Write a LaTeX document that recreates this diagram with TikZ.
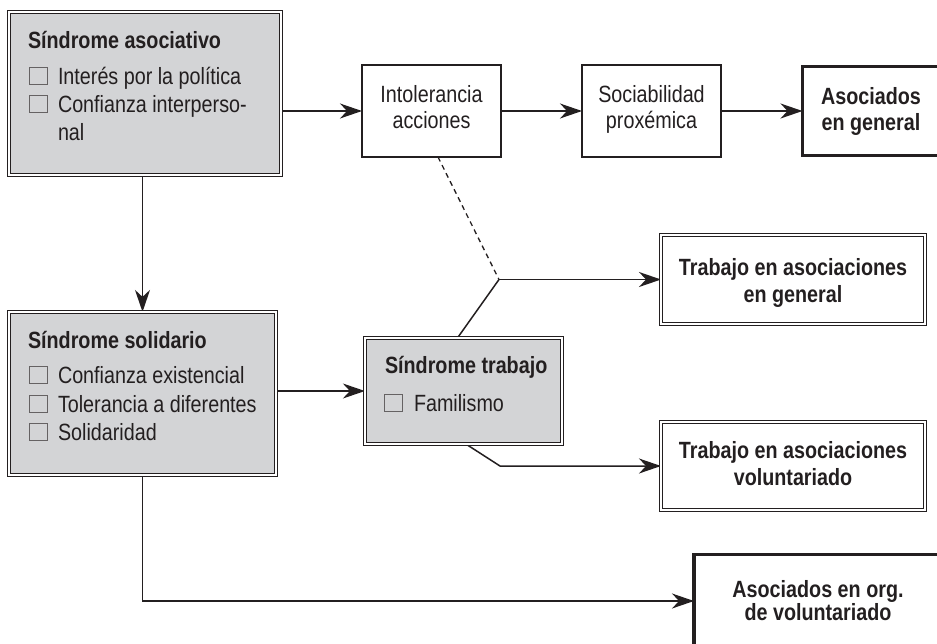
\documentclass[tikz,border=0pt]{standalone}
\usepackage{fontspec}
\setmainfont[FakeStretch=0.84]{Liberation Sans}
\usetikzlibrary{arrows.meta,calc,backgrounds}
\definecolor{ink}{HTML}{231F20}
\definecolor{boxgray}{HTML}{D3D4D6}
\begin{document}
\begin{tikzpicture}[x=1pt,y=-1pt,
  every node/.style={inner sep=0pt,outer sep=0pt},
  arr/.style={draw=ink,line width=1.5pt,-{Stealth[length=22pt,width=15pt,inset=7pt]}},
  conn/.style={draw=ink,line width=1.5pt},
  synbox/.style={rectangle,draw=ink,fill=boxgray,line width=1.1pt,double=white,double distance=1.8pt},
  dblbox/.style={rectangle,draw=ink,line width=1.1pt,double=white,double distance=1.8pt},
  plainbox/.style={rectangle,draw=ink,line width=1.3pt},
  thickbox/.style={rectangle,draw=ink,line width=3.5pt},
  chk/.style={rectangle,draw=ink!70,fill=boxgray,line width=0.7pt,minimum width=18pt,minimum height=17pt},
  txt/.style={font=\fontsize{23.5}{28}\selectfont,text=ink},
  btxt/.style={font=\fontsize{23.5}{28}\selectfont\bfseries,text=ink},
]
\useasboundingbox (0,0) rectangle (937,643);

% boxes
\node[synbox,minimum width=272.2pt,minimum height=163.2pt] (sa) at (145,93.5) {};
\node[synbox,minimum width=267.2pt,minimum height=163.2pt] (ss) at (142.5,393.5) {};
\node[synbox,minimum width=197.2pt,minimum height=106.2pt] (st) at (463.5,391) {};
\node[plainbox,minimum width=139pt,minimum height=92pt] (ia) at (431.5,111) {};
\node[plainbox,minimum width=139pt,minimum height=92pt] (sp) at (651.5,111) {};
\node[thickbox,minimum width=139pt,minimum height=89pt] (ag) at (872,111.2) {};
\node[dblbox,minimum width=264pt,minimum height=89pt] (tg) at (793,279.5) {};
\node[dblbox,minimum width=264pt,minimum height=88pt] (tv) at (793,466) {};
\node[thickbox,minimum width=248pt,minimum height=110pt] (av) at (818,609.7) {};

% texts: Sindrome asociativo
\node[btxt,anchor=base west] (sat) at (28,48) {Síndrome asociativo};
\node[chk] (sac1) at (38,76) {};
\node[txt,anchor=base west] (sai1) at (58,84) {Interés por la política};
\node[chk] (sac2) at (38,104) {};
\node[txt,anchor=base west] (sai2) at (58,112) {Confianza interperso-};
\node[txt,anchor=base west] (sai3) at (58,140) {nal};

% Sindrome solidario
\node[btxt,anchor=base west] (sst) at (28,348) {Síndrome solidario};
\node[chk] (ssc1) at (38,375) {};
\node[txt,anchor=base west] (ssi1) at (58,383) {Confianza existencial};
\node[chk] (ssc2) at (38,404) {};
\node[txt,anchor=base west] (ssi2) at (58,412) {Tolerancia a diferentes};
\node[chk] (ssc3) at (38,432) {};
\node[txt,anchor=base west] (ssi3) at (58,440) {Solidaridad};

% Sindrome trabajo
\node[btxt,anchor=base west] (stt) at (385,373) {Síndrome trabajo};
\node[chk] (stc1) at (393.5,403) {};
\node[txt,anchor=base west] (sti1) at (414,411) {Familismo};

% centred texts
\node[txt,anchor=base] (ia1) at (431.5,102) {Intolerancia};
\node[txt,anchor=base] (ia2) at (431.5,128) {acciones};
\node[txt,anchor=base] (sp1) at (651.5,102) {Sociabilidad};
\node[txt,anchor=base] (sp2) at (651.5,128) {proxémica};
\node[btxt,anchor=base] (ag1) at (871,104) {Asociados};
\node[btxt,anchor=base] (ag2) at (871,130) {en general};
\node[btxt,anchor=base] (tg1) at (793,275) {Trabajo en asociaciones};
\node[btxt,anchor=base] (tg2) at (793,302) {en general};
\node[btxt,anchor=base] (tv1) at (793,458) {Trabajo en asociaciones};
\node[btxt,anchor=base] (tv2) at (793,485) {voluntariado};
\node[btxt,anchor=base] (av1) at (818,597) {Asociados en org.};
\node[btxt,anchor=base] (av2) at (818,620) {de voluntariado};

% connectors
\coordinate (j1) at (499,279.5);
\coordinate (j2) at (500,466);
\coordinate (j3) at (142.5,601);
\begin{scope}[on background layer]
\draw[arr] (sa.east |- ia.west) -- (ia.west);
\draw[arr] (ia.east) -- (sp.west);
\draw[arr] (sp.east) -- (sp.east -| ag.west);
\draw[arr] (sa.south -| ss.north) -- (ss.north);
\draw[arr] (ss.east |- st.west) -- (st.west);
\draw[conn,dash pattern=on 5pt off 4pt,line width=1.3pt] ($(ia.south)+(6.5,0)$) -- (j1);
\draw[conn] ($(st.north)+(-6,0)$) -- (j1);
\draw[arr] (j1) -- (tg.west);
\draw[arr] ($(st.south)+(2.5,0)$) -- (j2) -- (tv.west);
\draw[arr] (ss.south) -- (j3) -- (j3 -| av.west);
\end{scope}
\end{tikzpicture}
\end{document}
